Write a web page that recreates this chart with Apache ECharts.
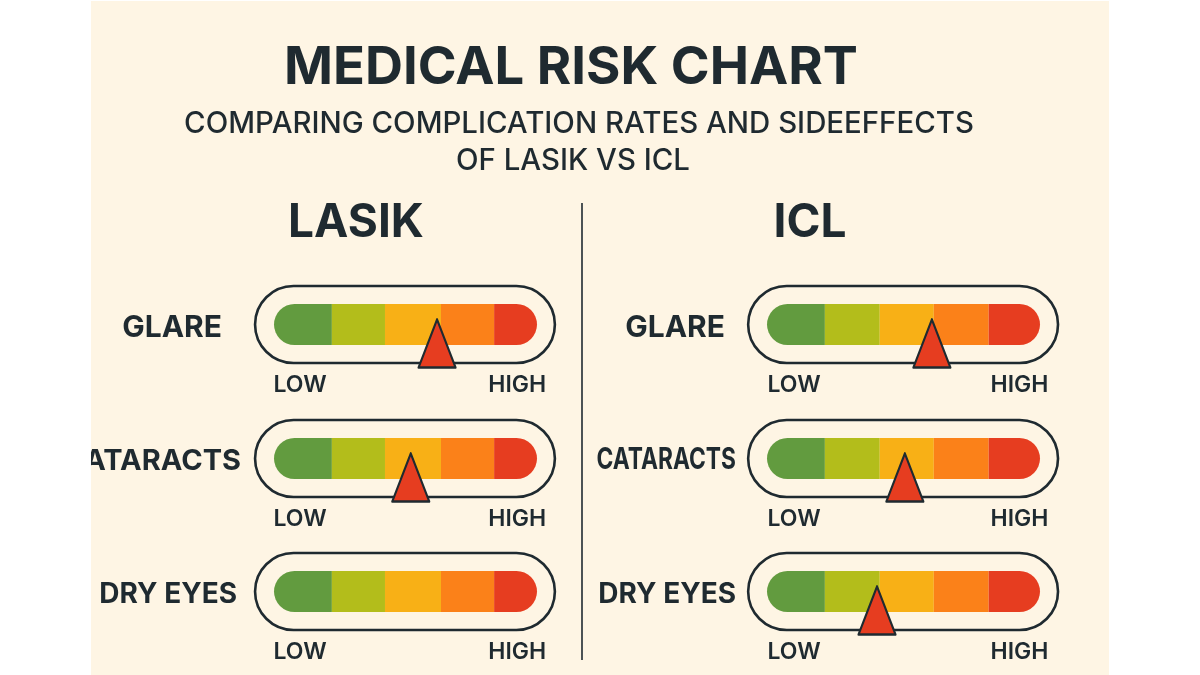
<!DOCTYPE html>
<html><head><meta charset="utf-8">
<script src="https://cdn.jsdelivr.net/npm/echarts@6/dist/echarts.min.js"></script>
<style>html,body{margin:0;background:#fff}#c{width:1200px;height:675px;background:#fef5e4;clip-path:inset(1px 91px 0 91px)}</style>
</head><body><div id="c"></div><script>
const rows = ['GLARE','CATARACTS','DRY EYES'];
const bandNames = ['Very low','Low','Moderate','High','Very high'];
const bandColors = ['#629b3f','#b3bd1b','#f8b016','#fb8119','#e63d20'];
const lasikBands = [22,20.2,21.3,20.2,16.3];
const iclBands = [21.2,20.1,19.8,20.1,18.8];
const lasikRisk = [62,52,null];
const iclRisk = [60.4,50.5,40.3];
const tickLabels = ['LOW','HIGH'];
const tickValues = [9.9,92.5];

const dark='#1f2a30', font='Inter';
const panels=[
 {name:'LASIK',left:274,width:263,bands:lasikBands,risk:lasikRisk,cap:[-7.2,106.8],margins:[52,33,37],sizes:[30,29,28],condensed:[]},
 {name:'ICL',left:767,width:273,bands:iclBands,risk:iclRisk,cap:[-6.9,106.6],margins:[42,31,31],sizes:[30,30,28],condensed:[1]}
];
const tops=[304,438,571];
const grid=[],xAxis=[],yAxis=[],series=[];
panels.forEach(p=>{
 rows.forEach((r,i)=>{
  const k=grid.length;
  const narrow=p.condensed.includes(i);
  grid.push({left:p.left,width:p.width,top:tops[i],height:41});
  xAxis.push({gridIndex:k,type:'value',min:0,max:100,axisLine:{show:false},axisTick:{show:false},splitLine:{show:false},
   axisLabel:{customValues:tickValues,margin:29,fontFamily:font,fontWeight:600,fontSize:23,color:dark,
     formatter:v=>tickLabels[v<50?0:1]}});
  yAxis.push({gridIndex:k,type:'category',data:[r],axisLine:{show:false},axisTick:{show:false},
   axisLabel:{show:!narrow,margin:p.margins[i],formatter:v=>'{a|'+v+'}',
     rich:{a:{fontFamily:font,fontWeight:700,fontSize:p.sizes[i],color:dark,padding:[6,0,0,0]}}}});
  series.push({type:'custom',xAxisIndex:k,yAxisIndex:k,z:1,data:[[p.cap[0],p.cap[1],0]],clip:false,silent:true,
   renderItem:(params,api)=>{
     const a=api.coord([api.value(0),0]),b=api.coord([api.value(1),0]);
     return {type:'rect',shape:{x:a[0],y:a[1]-38.5,width:b[0]-a[0],height:77,r:38.5},
       style:{fill:'none',stroke:dark,lineWidth:2.6}};
   },encode:{x:[0,1],y:2}});
  p.bands.forEach((b,j)=>{
    series.push({type:'bar',name:bandNames[j],stack:p.name+i,xAxisIndex:k,yAxisIndex:k,z:2,barWidth:'100%',silent:true,
     data:[b],itemStyle:{color:bandColors[j],
       borderRadius:j===0?[20.5,0,0,20.5]:j===4?[0,20.5,20.5,0]:0}});
  });
  if(p.risk[i]!=null) series.push({type:'scatter',xAxisIndex:k,yAxisIndex:k,z:3,silent:true,data:[[p.risk[i],r]],
    symbol:'triangle',symbolSize:[37,48],symbolOffset:[0,19],
    itemStyle:{color:'#e63d20',opacity:1,borderColor:dark,borderWidth:2.4,borderJoin:'round'}});
 });
});
const t=(text,x,y,size,weight)=>({text,left:x,top:y,textAlign:'center',padding:0,
  textStyle:{fontFamily:font,fontSize:size,fontWeight:weight,color:dark}});
const chart=echarts.init(document.getElementById('c'),null,{renderer:'canvas'});
chart.setOption({animation:false,backgroundColor:'transparent',
 title:[t('MEDICAL RISK CHART',571,42,52.6,700),
  t('COMPARING COMPLICATION RATES AND SIDEEFFECTS',579,110,29.4,500),
  t('OF LASIK VS ICL',573,147,29.4,500),
  t('LASIK',356,200,46,700),t('ICL',810,200,46,700)],
 grid,xAxis,yAxis,series,
 graphic:[{type:'line',shape:{x1:582,y1:203,x2:582,y2:660},style:{stroke:dark,lineWidth:1.6}},
  {type:'text',x:736,y:460,scaleX:0.76,style:{text:rows[1],align:'right',verticalAlign:'middle',
    fontFamily:font,fontWeight:700,fontSize:30,fill:dark}}]
});
</script></body></html>
